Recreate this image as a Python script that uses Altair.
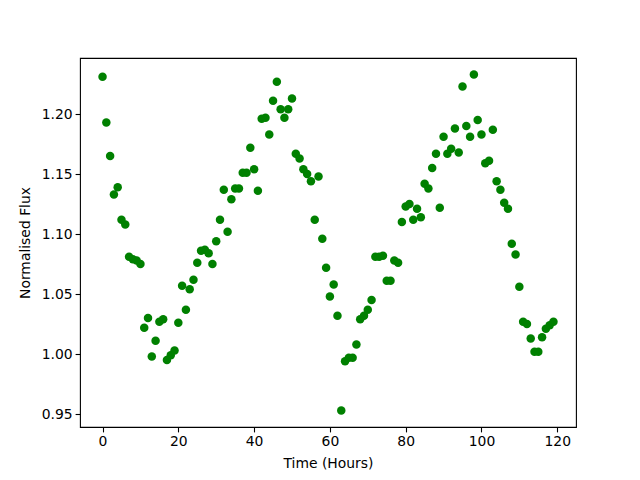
import altair as alt
import pandas as pd

hours = list(range(120))
flux = [
    1.231, 1.193, 1.165, 1.133, 1.139, 1.112, 1.108, 1.081, 1.079, 1.078,
    1.075, 1.022, 1.030, 0.998, 1.011, 1.027, 1.029, 0.995, 0.999, 1.003,
    1.026, 1.057, 1.037, 1.054, 1.062, 1.076, 1.086, 1.087, 1.084, 1.075,
    1.094, 1.112, 1.137, 1.102, 1.129, 1.138, 1.138, 1.151, 1.151, 1.172,
    1.154, 1.136, 1.196, 1.197, 1.183, 1.211, 1.227, 1.204, 1.197, 1.204,
    1.213, 1.167, 1.163, 1.154, 1.150, 1.144, 1.112, 1.148, 1.096, 1.072,
    1.048, 1.058, 1.032, 0.953, 0.994, 0.997, 0.997, 1.008, 1.029, 1.032,
    1.037, 1.045, 1.081, 1.081, 1.082, 1.061, 1.061, 1.078, 1.076, 1.110,
    1.123, 1.125, 1.112, 1.121, 1.114, 1.142, 1.138, 1.155, 1.167, 1.122,
    1.181, 1.167, 1.171, 1.188, 1.168, 1.223, 1.190, 1.181, 1.233, 1.195,
    1.183, 1.159, 1.161, 1.187, 1.144, 1.137, 1.126, 1.121, 1.092, 1.083,
    1.056, 1.027, 1.025, 1.013, 1.002, 1.002, 1.014, 1.021, 1.024, 1.027,
]
x_ticks = [0, 20, 40, 60, 80, 100, 120]
y_ticks = [0.95, 1.00, 1.05, 1.10, 1.15, 1.20]

df = pd.DataFrame({"Time": hours, "Flux": flux})

FONT = "DejaVu Sans"
FS = 13.9

chart = (
    alt.Chart(df)
    .mark_circle(color="#008000", size=72, opacity=1)
    .encode(
        x=alt.X(
            "Time:Q",
            scale=alt.Scale(domain=[-5.95, 124.95], nice=False, zero=False),
            axis=alt.Axis(
                title="Time (Hours)",
                values=x_ticks,
                format="d",
                grid=False,
                tickSize=4.9,
                tickWidth=1.1,
                tickColor="black",
                domain=False,
                labelPadding=3,
                titlePadding=8,
            ),
        ),
        y=alt.Y(
            "Flux:Q",
            scale=alt.Scale(domain=[0.9392, 1.2467], nice=False, zero=False),
            axis=alt.Axis(
                title="Normalised Flux",
                values=y_ticks,
                format=".2f",
                grid=False,
                tickSize=4.9,
                tickWidth=1.1,
                tickColor="black",
                domain=False,
                labelPadding=3,
                titlePadding=9,
            ),
        ),
    )
    .properties(
        width=496,
        height=369,
        background="white",
        autosize=alt.AutoSizeParams(type="none"),
        padding={"left": 72, "top": 50, "right": 56, "bottom": 45},
    )
    .configure_view(stroke="black", strokeWidth=1.1)
    .configure_axis(
        labelFont=FONT,
        titleFont=FONT,
        labelFontSize=FS,
        titleFontSize=FS,
        labelColor="black",
        titleColor="black",
        titleFontWeight="normal",
    )
)

chart.save("out.html", embed_options={"renderer": "svg", "actions": False})
